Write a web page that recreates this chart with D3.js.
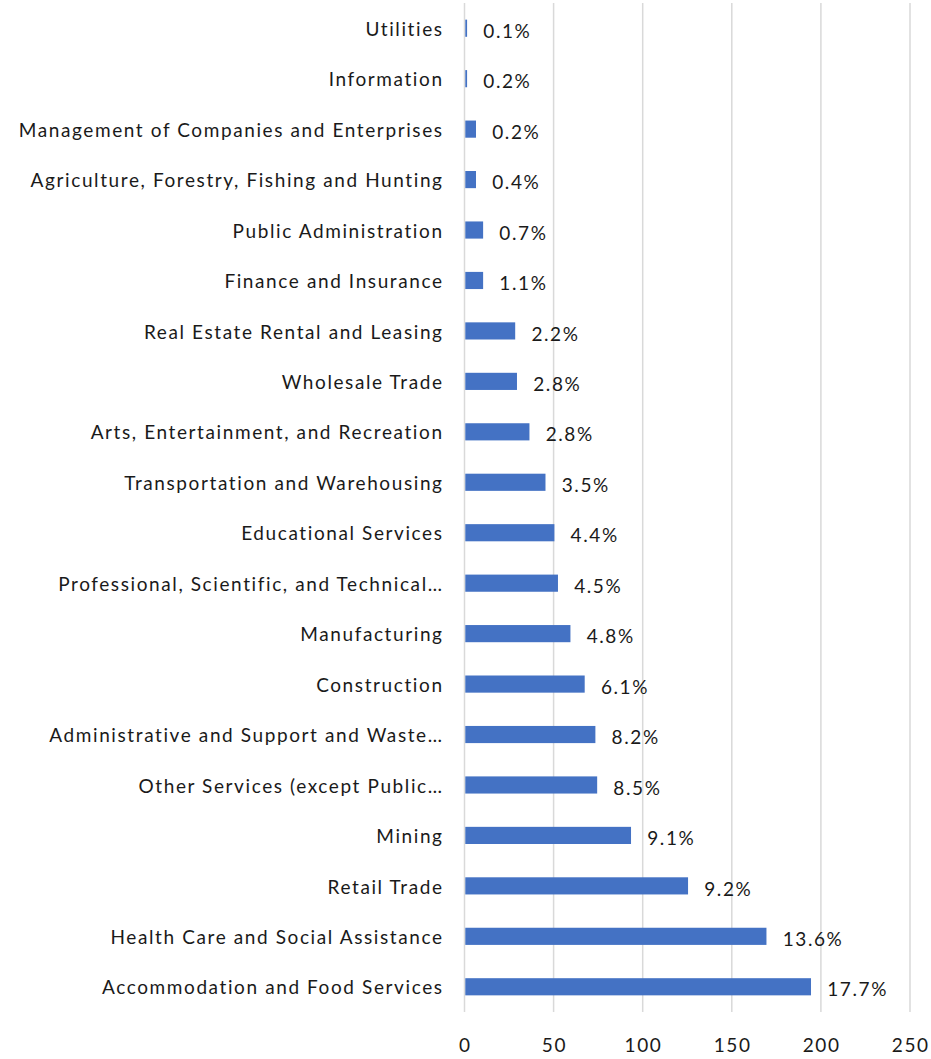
<!DOCTYPE html>
<html><head><meta charset="utf-8">
<script src="https://cdn.jsdelivr.net/npm/d3@7"></script>
<style>body{margin:0;background:#fff}svg{display:block}text{font-variant-ligatures:none;font-feature-settings:"liga" 0}</style>
</head><body>
<script>
const categories = ["Utilities","Information","Management of Companies and Enterprises","Agriculture, Forestry, Fishing and Hunting","Public Administration","Finance and Insurance","Real Estate Rental and Leasing","Wholesale Trade","Arts, Entertainment, and Recreation","Transportation and Warehousing","Educational Services","Professional, Scientific, and Technical…","Manufacturing","Construction","Administrative and Support and Waste…","Other Services (except Public…","Mining","Retail Trade","Health Care and Social Assistance","Accommodation and Food Services"];
const values = [1,1,6,6,10,10,28,29,36,45,50,52,59,67,73,74,93,125,169,194];
const labels = ["0.1%","0.2%","0.2%","0.4%","0.7%","1.1%","2.2%","2.8%","2.8%","3.5%","4.4%","4.5%","4.8%","6.1%","8.2%","8.5%","9.1%","9.2%","13.6%","17.7%"];
const ticks = [0,50,100,150,200,250];

const W=931,H=1059;
const m={left:464.5,right:21,top:3,bottom:47};
const font="Lato, 'Open Sans', sans-serif";
const ls=1.6;
const svg=d3.select("body").append("svg").attr("width",W).attr("height",H);
const x=d3.scaleLinear().domain([0,250]).range([m.left,W-m.right]);
const y=d3.scaleBand().domain(categories).range([m.top,H-m.bottom]).paddingInner(0.66).paddingOuter(0.33);

svg.append("g").selectAll("line").data(ticks).join("line")
  .attr("x1",d=>x(d)).attr("x2",d=>x(d)).attr("y1",m.top).attr("y2",H-m.bottom)
  .attr("stroke","#d9d9d9").attr("stroke-width",1.5);

svg.append("g").selectAll("rect").data(values).join("rect")
  .attr("x",x(0)+0.8).attr("y",(d,i)=>y(categories[i]))
  .attr("width",d=>x(d)-x(0)).attr("height",y.bandwidth())
  .attr("fill","#4472c4");

svg.append("g").selectAll("text").data(labels).join("text")
  .attr("x",(d,i)=>x(values[i])+17).attr("y",(d,i)=>y(categories[i])+y.bandwidth()/2+3)
  .attr("dy","0.35em").attr("font-family",font).attr("font-size",19).attr("letter-spacing",ls).attr("fill","#1a1a1a")
  .text(d=>d);

svg.append("g").selectAll("text").data(categories).join("text")
  .attr("x",442+ls).attr("y",d=>y(d)+y.bandwidth()/2+1).attr("dy","0.35em")
  .attr("text-anchor","end").attr("font-family",font).attr("font-size",19).attr("letter-spacing",ls).attr("fill","#1a1a1a")
  .text(d=>d);

svg.append("g").selectAll("text").data(ticks).join("text")
  .attr("x",d=>x(d)+ls/2).attr("y",1045).attr("dy","0.35em").attr("text-anchor","middle")
  .attr("font-family",font).attr("font-size",19).attr("letter-spacing",ls).attr("fill","#1a1a1a").text(d=>d);
</script>
</body></html>
